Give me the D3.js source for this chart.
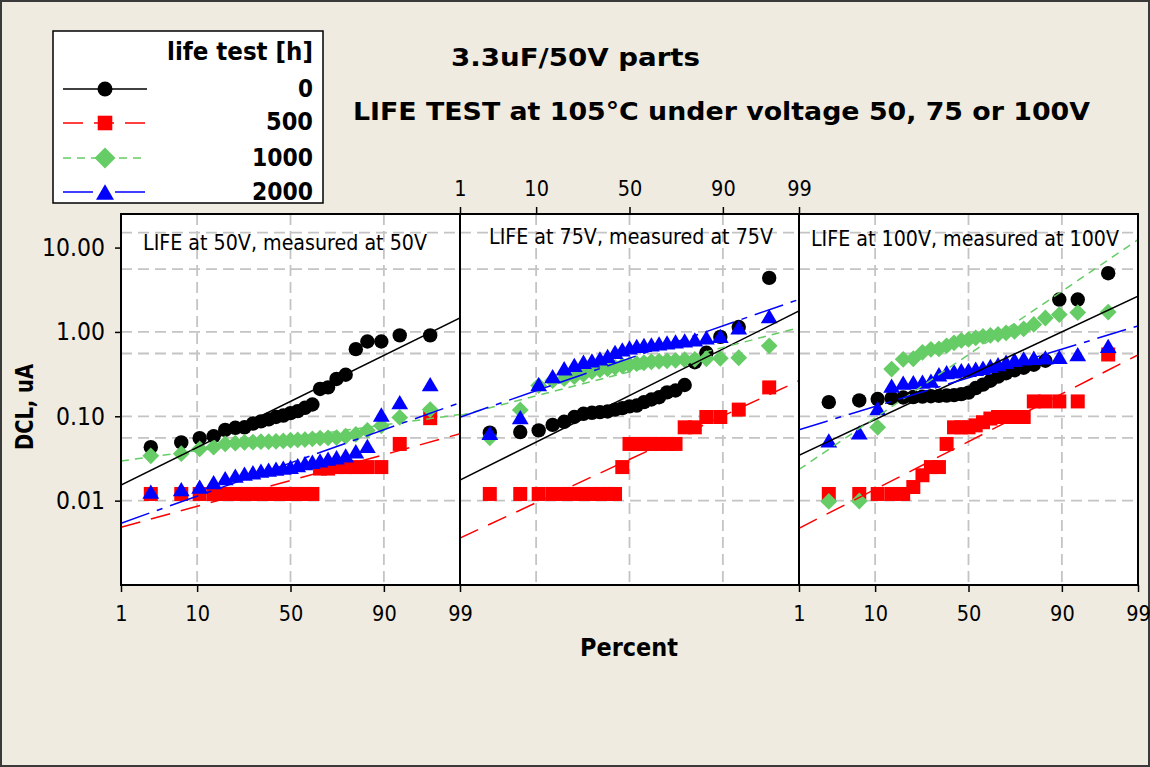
<!DOCTYPE html>
<html><head><meta charset="utf-8">
<script src="https://cdn.jsdelivr.net/npm/d3@7"></script>
<style>
html,body{margin:0;padding:0;background:#efebe1;}
svg{display:block;}
text{font-family:"DejaVu Sans",Verdana,sans-serif;}
</style></head><body>
<svg id="chart" width="1150" height="767"></svg>
<script>
// ---------------- DATA ----------------
const seriesNames = ["0", "500", "1000", "2000"];           // life test [h]
const panelLabels = ["LIFE at 50V, measured at 50V", "LIFE at 75V, measured at 75V", "LIFE at 100V, measured at 100V"];
const percentTicks = [1, 10, 50, 90, 99];
const dclTicks = [10, 1, 0.1, 0.01];
const dclGrid = [15, 5.55, 1, 0.555, 0.1, 0.0555, 0.01];
// median-rank plotting positions (percent) for n = 25
const pct = [2.76, 6.69, 10.63, 14.57, 18.50, 22.44, 26.38, 30.31, 34.25, 38.19, 42.13, 46.06, 50.00,
             53.94, 57.87, 61.81, 65.75, 69.69, 73.62, 77.56, 81.50, 85.43, 89.37, 93.31, 97.24];

// 50V panel
const dcl50_0h    = [0.043, 0.049, 0.055, 0.058, 0.069, 0.073, 0.074, 0.082, 0.087, 0.092, 0.098, 0.102, 0.109, 0.115, 0.126, 0.138, 0.211, 0.220, 0.277, 0.311, 0.625, 0.77, 0.77, 0.91, 0.91];
const dcl50_500h  = [0.012, 0.012, 0.012, 0.012, 0.012, 0.012, 0.012, 0.012, 0.012, 0.012, 0.012, 0.012, 0.012, 0.012, 0.012, 0.012, 0.024, 0.024, 0.025, 0.025, 0.025, 0.025, 0.025, 0.047, 0.095];
const dcl50_1000h = [0.034, 0.036, 0.041, 0.043, 0.047, 0.048, 0.049, 0.0495, 0.050, 0.050, 0.0505, 0.051, 0.052, 0.0525, 0.053, 0.054, 0.055, 0.0555, 0.056, 0.058, 0.061, 0.068, 0.077, 0.097, 0.120];
const dcl50_2000h = [0.0128, 0.0137, 0.0147, 0.0166, 0.0185, 0.0198, 0.0209, 0.0217, 0.0227, 0.0233, 0.0239, 0.0246, 0.0252, 0.0263, 0.0278, 0.0289, 0.0301, 0.0314, 0.0327, 0.0345, 0.0385, 0.0447, 0.105, 0.147, 0.240];
// 75V panel
const dcl75_0h    = [0.064, 0.065, 0.068, 0.079, 0.086, 0.098, 0.107, 0.110, 0.112, 0.114, 0.120, 0.125, 0.131, 0.134, 0.147, 0.158, 0.168, 0.192, 0.202, 0.235, 0.437, 0.566, 0.873, 1.145, 4.37];
const dcl75_500h  = [0.012, 0.012, 0.012, 0.012, 0.012, 0.012, 0.012, 0.012, 0.012, 0.012, 0.012, 0.025, 0.047, 0.047, 0.047, 0.047, 0.047, 0.047, 0.047, 0.074, 0.074, 0.098, 0.098, 0.12, 0.22];
const dcl75_1000h = [0.0555, 0.119, 0.231, 0.264, 0.279, 0.295, 0.315, 0.338, 0.356, 0.366, 0.381, 0.397, 0.408, 0.420, 0.431, 0.443, 0.449, 0.455, 0.461, 0.468, 0.474, 0.481, 0.487, 0.494, 0.684];
const dcl75_2000h = [0.0636, 0.098, 0.240, 0.299, 0.371, 0.408, 0.443, 0.461, 0.487, 0.521, 0.581, 0.622, 0.657, 0.684, 0.703, 0.712, 0.732, 0.752, 0.773, 0.794, 0.816, 0.861, 0.897, 1.13, 1.54];
// 100V panel
const dcl100_0h    = [0.147, 0.154, 0.160, 0.164, 0.167, 0.169, 0.171, 0.173, 0.1745, 0.176, 0.178, 0.183, 0.191, 0.216, 0.237, 0.264, 0.295, 0.324, 0.352, 0.376, 0.408, 0.455, 2.42, 2.42, 4.97];
const dcl100_500h  = [0.012, 0.012, 0.012, 0.012, 0.012, 0.0145, 0.020, 0.025, 0.025, 0.047, 0.074, 0.074, 0.074, 0.078, 0.085, 0.094, 0.098, 0.098, 0.098, 0.098, 0.15, 0.15, 0.15, 0.15, 0.54];
const dcl100_1000h = [0.0098, 0.0099, 0.074, 0.363, 0.474, 0.481, 0.573, 0.622, 0.630, 0.684, 0.742, 0.794, 0.816, 0.850, 0.885, 0.909, 0.934, 0.973, 1.014, 1.085, 1.226, 1.462, 1.608, 1.698, 1.721];
const dcl100_2000h = [0.0518, 0.0644, 0.125, 0.231, 0.250, 0.254, 0.257, 0.264, 0.315, 0.333, 0.342, 0.352, 0.356, 0.366, 0.376, 0.397, 0.416, 0.443, 0.468, 0.487, 0.494, 0.500, 0.507, 0.546, 0.684];

// fitted lognormal lines: DCL at 1% and at 99%
const fit50  = [[0.0153, 1.47], [0.00484, 0.062], [0.0295, 0.105], [0.0054, 0.145]];
const fit75  = [[0.0175, 1.77], [0.0036, 0.264], [0.102, 1.12], [0.0976, 2.43]];
const fit100 = [[0.0345, 2.66], [0.0047, 0.535], [0.0234, 12.4], [0.0693, 1.18]];

// ---------------- SETUP ----------------
const W = 1150, H = 767;
const svg = d3.select("#chart");
const FONT_K = 0.88;
function condense(sel, k) {
  sel.each(function () {
    const w = this.getComputedTextLength();
    this.setAttribute("textLength", (w * k).toFixed(1));
    this.setAttribute("lengthAdjust", "spacingAndGlyphs");
  });
}
function fitTo(sel, w) { sel.attr("textLength", w).attr("lengthAdjust", "spacingAndGlyphs"); }

function probit(p) {
  const a = [-3.969683028665376e+01, 2.209460984245205e+02, -2.759285104469687e+02, 1.383577518672690e+02, -3.066479806614716e+01, 2.506628277459239e+00];
  const b = [-5.447609879822406e+01, 1.615858368580409e+02, -1.556989798598866e+02, 6.680131188771972e+01, -1.328068155288572e+01];
  const c = [-7.784894002430293e-03, -3.223964580411365e-01, -2.400758277161838e+00, -2.549732539343734e+00, 4.374664141464968e+00, 2.938163982698783e+00];
  const d = [7.784695709041462e-03, 3.224671290700398e-01, 2.445134137142996e+00, 3.754408661907416e+00];
  const pl = 0.02425, ph = 1 - pl;
  let q, r;
  if (p < pl) { q = Math.sqrt(-2 * Math.log(p)); return (((((c[0]*q+c[1])*q+c[2])*q+c[3])*q+c[4])*q+c[5]) / ((((d[0]*q+d[1])*q+d[2])*q+d[3])*q+1); }
  if (p <= ph) { q = p - 0.5; r = q*q; return (((((a[0]*r+a[1])*r+a[2])*r+a[3])*r+a[4])*r+a[5])*q / (((((b[0]*r+b[1])*r+b[2])*r+b[3])*r+b[4])*r+1); }
  q = Math.sqrt(-2 * Math.log(1 - p)); return -(((((c[0]*q+c[1])*q+c[2])*q+c[3])*q+c[4])*q+c[5]) / ((((d[0]*q+d[1])*q+d[2])*q+d[3])*q+1);
}
function probScale(x0, x1) {
  const lin = d3.scaleLinear().domain([probit(0.01), probit(0.99)]).range([x0, x1]);
  const s = p => lin(probit(p / 100));
  s.range = () => lin.range();
  s.domain = () => [1, 99];
  s.copy = () => probScale(x0, x1);
  return s;
}

const panelX = [121, 460, 799], PW = 339, PT = 214, PB = 585;
const y = d3.scaleLog().domain([0.001, 25]).range([PB, PT]);

const colors = ["#000000", "#ff0000", "#66cc66", "#0000ff"];
const dashes = [null, "20,11", "8,6", "30,8,6,8"];
const symCircle = { draw(ctx, r) { ctx.moveTo(r, 0); ctx.arc(0, 0, r, 0, 2 * Math.PI); } };
const symSquare = { draw(ctx, h) { ctx.rect(-h, -h, 2 * h, 2 * h); } };
const symDiamond = { draw(ctx, h) { ctx.moveTo(0, -h); ctx.lineTo(h, 0); ctx.lineTo(0, h); ctx.lineTo(-h, 0); ctx.closePath(); } };
const symTriangle = { draw(ctx, h) { ctx.moveTo(0, -h * 0.85); ctx.lineTo(h, h * 0.85); ctx.lineTo(-h, h * 0.85); ctx.closePath(); } };
const symbols = [symCircle, symSquare, symDiamond, symTriangle];
const symSize = [7.2, 7, 8.4, 8.4];

const panels = [
  { label: panelLabels[0], series: [dcl50_0h, dcl50_500h, dcl50_1000h, dcl50_2000h], fits: fit50, lw: 284, lx: 285, ly: 250 },
  { label: panelLabels[1], series: [dcl75_0h, dcl75_500h, dcl75_1000h, dcl75_2000h], fits: fit75, lw: 284, lx: 631, ly: 244 },
  { label: panelLabels[2], series: [dcl100_0h, dcl100_500h, dcl100_1000h, dcl100_2000h], fits: fit100, lw: 308, lx: 965, ly: 246 }
];

// background + outer frame
svg.append("rect").attr("width", W).attr("height", H).attr("fill", "#efebe1");
svg.append("rect").attr("x", 1).attr("y", 1).attr("width", W - 2).attr("height", H - 2)
  .attr("fill", "none").attr("stroke", "#3a3a3a").attr("stroke-width", 2);

const defs = svg.append("defs");

panels.forEach((P, pi) => {
  const x0 = panelX[pi], x1 = x0 + PW;
  const xs = probScale(x0, x1);
  const g = svg.append("g");
  defs.append("clipPath").attr("id", "clip" + pi).append("rect")
    .attr("x", x0).attr("y", PT).attr("width", PW).attr("height", PB - PT);

  g.append("rect").attr("x", x0).attr("y", PT).attr("width", PW).attr("height", PB - PT).attr("fill", "#ffffff");

  // grid
  g.selectAll("line.hg").data(dclGrid).enter().append("line")
    .attr("x1", x0).attr("x2", x1).attr("y1", d => y(d)).attr("y2", d => y(d))
    .attr("stroke", "#c4c4c4").attr("stroke-width", 1.8).attr("stroke-dasharray", "11,6");
  g.selectAll("line.vg").data([10, 50, 90]).enter().append("line")
    .attr("x1", d => xs(d)).attr("x2", d => xs(d)).attr("y1", PT).attr("y2", PB)
    .attr("stroke", "#c4c4c4").attr("stroke-width", 1.8).attr("stroke-dasharray", "11,6");

  // panel label
  const lt = g.append("text").attr("x", P.lx).attr("y", P.ly).attr("text-anchor", "middle")
    .attr("font-size", 21.5).attr("fill", "#000").text(P.label);
  fitTo(lt, P.lw);

  // points
  P.series.forEach((vals, si) => {
    const sym = d3.symbol().type(symbols[si]).size(symSize[si]);
    g.append("g").selectAll("path").data(vals).enter().append("path")
      .attr("d", sym)
      .attr("transform", (d, i) => `translate(${xs(pct[i])},${y(d)})`)
      .attr("fill", colors[si]);
  });

  // fitted lines
  const lineGen = d3.line().x(d => xs(d[0])).y(d => y(d[1]));
  const lg = g.append("g").attr("clip-path", `url(#clip${pi})`);
  P.fits.forEach((f, si) => {
    lg.append("path").datum([[1, f[0]], [99, f[1]]])
      .attr("d", lineGen).attr("fill", "none").attr("stroke", colors[si])
      .attr("stroke-width", 1.5).attr("stroke-dasharray", dashes[si]);
  });

  // frame
  g.append("rect").attr("x", x0).attr("y", PT).attr("width", PW).attr("height", PB - PT)
    .attr("fill", "none").attr("stroke", "#000").attr("stroke-width", 2);

  // axes
  if (pi === 1) {
    const ax = svg.append("g").attr("transform", `translate(0,${PT})`)
      .call(d3.axisTop(xs).tickValues(percentTicks).tickFormat(d3.format("d")).tickSize(7).tickSizeOuter(0).tickPadding(11));
    styleAxis(ax, 22);
  } else {
    const ax = svg.append("g").attr("transform", `translate(0,${PB})`)
      .call(d3.axisBottom(xs).tickValues(percentTicks).tickFormat(d3.format("d")).tickSize(7).tickSizeOuter(0).tickPadding(13));
    styleAxis(ax, 22);
  }
});

function styleAxis(ax, fs) {
  ax.select(".domain").remove();
  ax.selectAll(".tick line").attr("stroke", "#000").attr("stroke-width", 1.5);
  ax.selectAll(".tick text").attr("font-size", fs).attr("fill", "#000").attr("font-family", "DejaVu Sans, Verdana, sans-serif");
  condense(ax.selectAll(".tick text"), FONT_K);
}

// y axis
const yax = svg.append("g").attr("transform", `translate(${panelX[0]},0)`)
  .call(d3.axisLeft(y).tickValues(dclTicks).tickFormat(d3.format(".2f")).tickSize(6).tickSizeOuter(0).tickPadding(10));
styleAxis(yax, 25);

// axis titles
const pt = svg.append("text").attr("x", 629).attr("y", 656).attr("text-anchor", "middle")
  .attr("font-size", 25).attr("font-weight", "bold").text("Percent");
fitTo(pt, 98);
const yt = svg.append("text").attr("transform", "translate(33,407) rotate(-90)").attr("text-anchor", "middle")
  .attr("font-size", 25).attr("font-weight", "bold").text("DCL, uA");
fitTo(yt, 86);

// titles
const t1 = svg.append("text").attr("x", 451).attr("y", 66).attr("font-size", 25).attr("font-weight", "bold").text("3.3uF/50V parts");
fitTo(t1, 249);
const t2 = svg.append("text").attr("x", 353).attr("y", 120).attr("font-size", 25).attr("font-weight", "bold").text("LIFE TEST at 105°C under voltage 50, 75 or 100V");
fitTo(t2, 737);

// legend
const lg = svg.append("g");
lg.append("rect").attr("x", 53).attr("y", 31).attr("width", 270).attr("height", 172)
  .attr("fill", "#fff").attr("stroke", "#000").attr("stroke-width", 1.5);
const ltt = lg.append("text").attr("x", 313).attr("y", 60).attr("text-anchor", "end")
  .attr("font-size", 24).attr("font-weight", "bold").text("life test [h]");
fitTo(ltt, 146);
const legY = [89, 123, 158, 192], legTextY = [97, 130, 166, 200], legW = [15, 47, 61, 61];
const legSize = [7.5, 7.3, 10.5, 9];
seriesNames.forEach((name, si) => {
  lg.append("line").attr("x1", 63).attr("x2", 147).attr("y1", legY[si]).attr("y2", legY[si])
    .attr("stroke", colors[si]).attr("stroke-width", 1.5).attr("stroke-dasharray", dashes[si]);
  lg.append("path").attr("d", d3.symbol().type(symbols[si]).size(legSize[si])())
    .attr("transform", `translate(105,${legY[si]})`).attr("fill", colors[si]);
  const t = lg.append("text").attr("x", 313).attr("y", legTextY[si]).attr("text-anchor", "end")
    .attr("font-size", 24).attr("font-weight", "bold").text(name);
  fitTo(t, legW[si]);
});
</script>
</body></html>
